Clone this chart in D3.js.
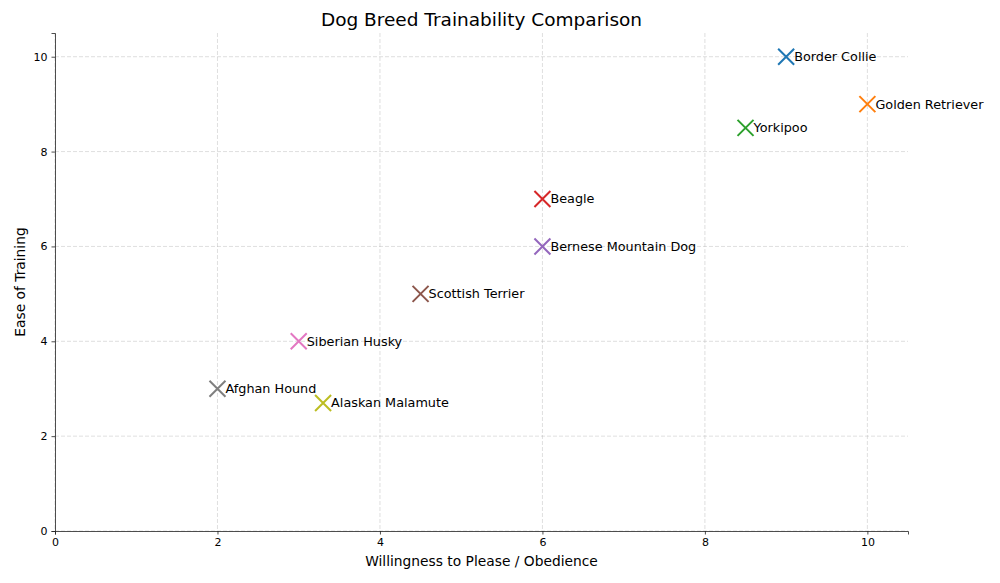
<!DOCTYPE html>
<html>
<head>
<meta charset="utf-8">
<script src="https://cdn.jsdelivr.net/npm/d3@7"></script>
<style>
  body { margin: 0; background: #fff; }
  svg { font-family: "DejaVu Sans", sans-serif; }
</style>
</head>
<body>
<svg id="chart" width="1000" height="583"></svg>
<script>
const breeds = ["Border Collie", "Golden Retriever", "Yorkipoo", "Beagle", "Bernese Mountain Dog",
    "Scottish Terrier", "Siberian Husky", "Afghan Hound", "Alaskan Malamute"];
const obedience = [9, 10, 8.5, 6, 6, 4.5, 3, 2, 3.3];
const training = [10, 9, 8.5, 7, 6, 5, 4, 3, 2.7];
const colors = ["#1f77b4", "#ff7f0e", "#2ca02c", "#d62728", "#9467bd", "#8c564b", "#e377c2", "#7f7f7f", "#bcbd22"];
const xTicks = [0, 2, 4, 6, 8, 10];
const yTicks = [0, 2, 4, 6, 8, 10];

const svg = d3.select("#chart");
const margin = { top: 33, right: 92, bottom: 52, left: 55 };
const w = 1000 - margin.left - margin.right, h = 583 - margin.top - margin.bottom;

const x = d3.scaleLinear().domain([0, 10.5]).range([0, w]);
const y = d3.scaleLinear().domain([0, 10.5]).range([h, 0]);

const g = svg.append("g").attr("transform", `translate(${margin.left},${margin.top})`);

// grid
g.append("g").selectAll("line").data(xTicks).enter().append("line")
    .attr("x1", d => x(d)).attr("x2", d => x(d)).attr("y1", 0).attr("y2", h)
    .attr("stroke", "#b0b0b0").attr("stroke-opacity", 0.5).attr("stroke-dasharray", "4,2").attr("stroke-width", 0.8);
g.append("g").selectAll("line").data(yTicks).enter().append("line")
    .attr("y1", d => y(d)).attr("y2", d => y(d)).attr("x1", 0).attr("x2", w)
    .attr("stroke", "#b0b0b0").attr("stroke-opacity", 0.5).attr("stroke-dasharray", "4,2").attr("stroke-width", 0.8);

const xAxis = g.append("g").attr("transform", `translate(0,${h})`)
    .call(d3.axisBottom(x).tickValues(xTicks).tickSize(3.5).tickPadding(4));
const yAxis = g.append("g")
    .call(d3.axisLeft(y).tickValues(yTicks).tickSize(3.5).tickPadding(4));
[xAxis, yAxis].forEach(a => {
    a.selectAll("text").attr("font-size", 11).attr("fill", "#000").attr("font-family", "DejaVu Sans");
    a.selectAll("line").attr("stroke", "#222").attr("stroke-width", 0.8);
    a.select(".domain").attr("stroke", "#222").attr("stroke-width", 0.8);
});

const pts = breeds.map((b, i) => ({ name: b, x: obedience[i], y: training[i], c: colors[i] }));
const s = 8;
const mk = g.selectAll(".pt").data(pts).enter().append("g")
    .attr("transform", d => `translate(${x(d.x)},${y(d.y)})`);
mk.append("path").attr("d", `M${-s},${-s}L${s},${s}M${-s},${s}L${s},${-s}`)
    .attr("stroke", d => d.c).attr("stroke-width", 2).attr("fill", "none");
mk.append("text").attr("x", 8).attr("dy", "0.35em").attr("font-size", 12.8).text(d => d.name);

svg.append("text").attr("x", margin.left + w / 2).attr("y", 26).attr("text-anchor", "middle")
    .attr("font-size", 18.5).text("Dog Breed Trainability Comparison");
svg.append("text").attr("x", margin.left + w / 2).attr("y", 566).attr("text-anchor", "middle")
    .attr("font-size", 13.8).text("Willingness to Please / Obedience");
svg.append("text").attr("transform", `translate(25,${margin.top + h / 2}) rotate(-90)`).attr("text-anchor", "middle")
    .attr("font-size", 13.8).text("Ease of Training");
</script>
</body>
</html>
